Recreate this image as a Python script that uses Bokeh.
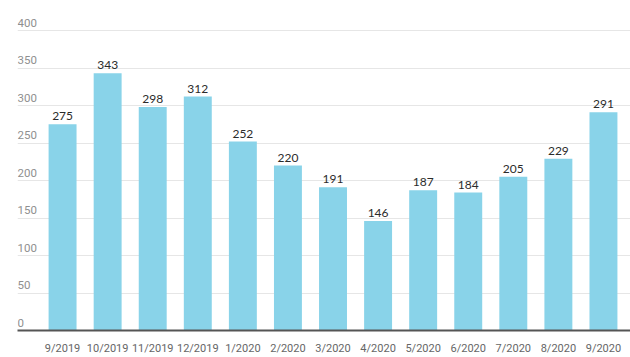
from bokeh.plotting import figure
from bokeh.models import ColumnDataSource, FixedTicker, Range1d
from bokeh.core.properties import value
from bokeh.embed import file_html
from bokeh.resources import INLINE

months = ["9/2019", "10/2019", "11/2019", "12/2019", "1/2020", "2/2020", "3/2020",
          "4/2020", "5/2020", "6/2020", "7/2020", "8/2020", "9/2020"]
counts = [275, 343, 298, 312, 252, 220, 191, 146, 187, 184, 205, 229, 291]
y_ticks = [0, 50, 100, 150, 200, 250, 300, 350, 400]

FONT = "Lato"
NARROW = "Roboto"
idx = list(range(len(months)))

p = figure(width=630, height=357, output_backend="svg", toolbar_location=None,
           x_range=Range1d(-1.0, 12.6), y_range=Range1d(0, 416),
           min_border_left=17, min_border_right=0, min_border_top=18, min_border_bottom=27)
p.outline_line_color = None
p.background_fill_color = "white"
p.border_fill_color = "white"

src = ColumnDataSource(dict(x=idx, y=counts, lab=[str(c) for c in counts]))
p.vbar(x="x", top="y", width=0.62, source=src, fill_color="#89D3E9", line_color=None)
p.text(x="x", y="y", text="lab", source=src, text_align="center", text_baseline="bottom",
       y_offset=-4, text_font=value(FONT), text_font_size="12px", text_color="#2b2b2b")

# y tick labels drawn inside the plot, above gridlines
ysrc = ColumnDataSource(dict(x=[-1.0] * len(y_ticks), y=y_ticks, lab=[str(t) for t in y_ticks]))
p.text(x="x", y="y", text="lab", source=ysrc, text_align="left", text_baseline="bottom",
       y_offset=-4, text_font=value(NARROW), text_font_size="11.5px", text_color="#8f8f8f")

p.yaxis.visible = False
p.ygrid.ticker = FixedTicker(ticks=y_ticks)
p.ygrid.grid_line_color = "#e6e6e6"
p.xgrid.grid_line_color = None

p.xaxis.ticker = FixedTicker(ticks=idx)
p.xaxis.major_label_overrides = {i: m for i, m in enumerate(months)}
p.xaxis.major_tick_line_color = None
p.xaxis.minor_tick_line_color = None
p.xaxis.axis_line_color = "#555555"
p.xaxis.axis_line_width = 2
p.xaxis.major_label_standoff = 5
p.xaxis.major_label_text_font = NARROW
p.xaxis.major_label_text_font_size = "11px"
p.xaxis.major_label_text_color = "#666666"

open("out.html", "w").write(file_html(p, INLINE))
